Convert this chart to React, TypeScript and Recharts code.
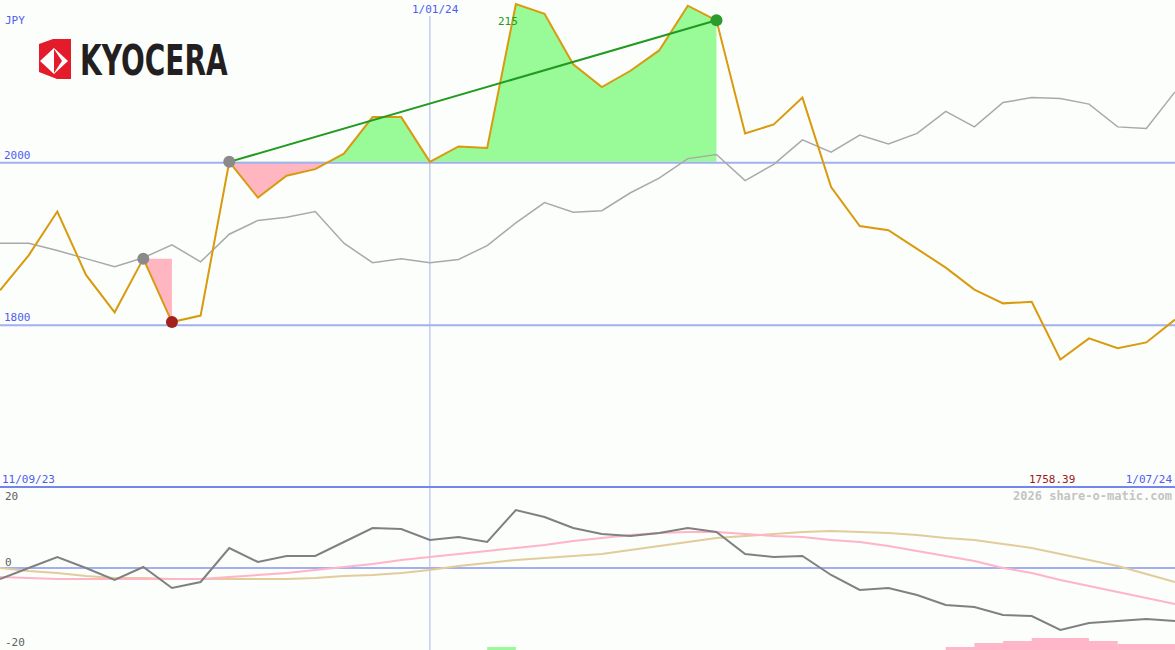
import React from 'react'
import { Area, ComposedChart, Line, ReferenceLine, XAxis, YAxis } from 'recharts'

// weekly closes, 18/09/23 .. 1/07/24
const weeks = [
  '18/09/23', '25/09/23', '2/10/23', '9/10/23', '16/10/23', '23/10/23', '30/10/23',
  '6/11/23', '13/11/23', '20/11/23', '27/11/23', '4/12/23', '11/12/23', '18/12/23',
  '25/12/23', '1/01/24', '8/01/24', '15/01/24', '22/01/24', '29/01/24', '5/02/24',
  '12/02/24', '19/02/24', '26/02/24', '4/03/24', '11/03/24', '18/03/24', '25/03/24',
  '1/04/24', '8/04/24', '15/04/24', '22/04/24', '29/04/24', '6/05/24', '13/05/24',
  '20/05/24', '27/05/24', '3/06/24', '10/06/24', '17/06/24', '24/06/24', '1/07/24'
]

const price = [
  1843, 1886, 1940, 1862, 1816, 1882, 1804, 1812, 2001, 1957, 1984, 1992, 2011, 2056,
  2056, 2001, 2020, 2018, 2195, 2183, 2121, 2093, 2113, 2138, 2193, 2175, 2036, 2047,
  2080, 1970, 1922, 1917, 1894, 1871, 1844, 1827, 1829, 1758, 1784, 1772, 1779, 1807
]

const average = [
  1901, 1901, 1892, 1882, 1872, 1883, 1899, 1878, 1912, 1929, 1933, 1940, 1901, 1877,
  1882, 1877, 1881, 1898, 1926, 1951, 1939, 1941, 1963, 1981, 2005, 2010, 1978, 1998,
  2028, 2013, 2034, 2023, 2036, 2063, 2044, 2074, 2080, 2079, 2072, 2044, 2042, 2087
]

const momentum = [
  -2.75, 0, 2.75, 0, -3, 0.25, -5, -3.5, 5, 1.5, 3, 3, 6.5, 10, 9.75, 7, 7.75, 6.5,
  14.5, 12.75, 10, 8.5, 8, 8.75, 10, 9, 3.5, 2.75, 3, -1.75, -5.5, -5, -6.75, -9.25,
  -9.75, -11.75, -12, -15.5, -13.75, -13.25, -12.75, -13.25
]

const signal = [
  -2.25, -2.5, -2.75, -2.75, -2.75, -2.75, -2.75, -2.75, -2.25, -1.75, -1.25, -0.5,
  0.25, 1, 2, 2.75, 3.5, 4.25, 5, 5.75, 6.75, 7.5, 8.25, 8.75, 9, 9, 8.5, 8, 7.75, 7,
  6.5, 5.5, 4.25, 3, 1.75, 0, -1.25, -3, -4.5, -6, -7.5, -9
]

const slowSignal = [
  0, -0.75, -1.25, -2, -2.5, -2.5, -2.75, -2.75, -2.75, -2.75, -2.75, -2.5, -2, -1.75,
  -1.25, -0.5, 0.5, 1.25, 2, 2.5, 3, 3.5, 4.5, 5.5, 6.5, 7.5, 8, 8.5, 9, 9.25, 9, 8.75,
  8.25, 7.5, 7, 6, 5, 3.5, 2, 0.5, -1.5, -3.5
]

const sellBars: (number | null)[] = [
  null, null, null, null, null, null, null, null, null, null, null, null, null, null,
  null, null, null, null, null, null, null, null, null, null, null, null, null, null,
  null, null, null, null, null, 0.75, 1.75, 2.25, 3, 3, 2.25, 1.5, 1.5, 1.5
]

const buyBars: (number | null)[] = [
  null, null, null, null, null, null, null, null, null, null, null, null, null, null,
  null, null, null, 0.75, 0, null, null, null, null, null, null, null, null, null,
  null, null, null, null, null, null, null, null, null, null, null, null, null, null
]

const markers: Record<string, string> = {
  '23/10/23': '#8a8a8a',
  '30/10/23': '#a3201c',
  '13/11/23': '#8a8a8a',
  '11/03/24': '#2b9b2b'
}

const dropFrom = weeks.indexOf('23/10/23')
const dropTo = weeks.indexOf('30/10/23')
const riseFrom = weeks.indexOf('13/11/23')
const riseTo = weeks.indexOf('11/03/24')

const TOP_MIN = 1600
const TOP_MAX = 2200
const LOW_MIN = -20.5
const LOW_MAX = 20
const TOP_H = 488
const LOW_H = 162

const BG = '#fbfefb'
const BLUE_TEXT = '#4f5cf2'
const GRID = '#a3b0f0'
const MONO = '"DejaVu Sans Mono", monospace'

const topData = weeks.map((week, i) => ({
  week,
  price: price[i],
  average: average[i],
  drop: i >= dropFrom && i <= dropTo ? [price[dropFrom], price[i]] : null,
  rise: i >= riseFrom && i <= riseTo ? [price[riseFrom], price[i]] : null,
  trend: i === riseFrom || i === riseTo ? price[i] : null,
  marker: markers[week] ? price[i] : null
}))

const lowData = weeks.map((week, i) => ({
  week,
  momentum: momentum[i],
  signal: signal[i],
  slow: slowSignal[i],
  sell: sellBars[i] == null ? null : [LOW_MIN, LOW_MIN + (sellBars[i] as number)],
  buy: buyBars[i] == null ? null : [LOW_MIN, LOW_MIN + (buyBars[i] as number)]
}))

const riseOffset = (TOP_MAX - price[riseFrom]) / (TOP_MAX - TOP_MIN)

const MarkerDot = (props: any) => {
  const { cx, cy, payload, index } = props
  const color = markers[payload?.week]
  if (!color || cy == null) return <g key={`m-${index}`} />
  return <circle key={`m-${index}`} cx={cx} cy={cy} r={6} fill={color} />
}

const Logo = () => (
  <svg
    width={230}
    height={70}
    style={{ position: 'absolute', left: 30, top: 25 }}
    viewBox='30 25 230 70'>
    <polygon points='53,39 71,39 71,79 57,79 39,72 39,44' fill='#e31b2b' />
    <polygon points='40,61 54,48 68,61 54,74' fill='#ffffff' />
    <polygon points='54,49 62,61 54,73' fill='#e31b2b' />
    {/* wide letters stretched upright, like the wordmark */}
    <text
      transform='translate(80,75) scale(1,1.5)'
      fontFamily='"DejaVu Sans", sans-serif'
      fontWeight='bold'
      fontSize={28}
      fill='#231f20'>
      KYOCERA
    </text>
  </svg>
)

const Txt = ({ x, y, color, children, size = 11, bold = false, right = false }: any) => (
  <div
    style={{
      position: 'absolute',
      top: y,
      ...(right ? { right: x } : { left: x }),
      color,
      fontFamily: MONO,
      fontSize: size,
      fontWeight: bold ? 'bold' : 'normal',
      lineHeight: `${size + 2}px`,
      whiteSpace: 'nowrap'
    }}>
    {children}
  </div>
)

const App = () => {
  return (
    <div
      style={{
        position: 'absolute',
        left: 0,
        top: 0,
        width: 1175,
        height: 650,
        background: BG,
        overflow: 'hidden'
      }}>
      <div style={{ position: 'absolute', left: 0, top: 0 }}>
        <ComposedChart
          width={1175}
          height={TOP_H}
          data={topData}
          margin={{ top: 0, right: 0, bottom: 0, left: 0 }}>
          <defs>
            <linearGradient id='riseFill' gradientUnits='userSpaceOnUse' x1={0} y1={0} x2={0} y2={TOP_H}>
              <stop offset={riseOffset} stopColor='#98fb98' />
              <stop offset={riseOffset} stopColor='#ffb6c1' />
            </linearGradient>
          </defs>
          <XAxis dataKey='week' hide scale='point' padding={{ left: 0, right: 0 }} />
          <YAxis hide domain={[TOP_MIN, TOP_MAX]} allowDataOverflow />
          <ReferenceLine
            y={2000}
            stroke={GRID}
            strokeWidth={2}
            label={{ value: '2000', position: 'insideBottomLeft', offset: 4, fill: BLUE_TEXT, fontSize: 11, fontFamily: MONO }}
          />
          <ReferenceLine
            y={1800}
            stroke={GRID}
            strokeWidth={2}
            label={{ value: '1800', position: 'insideBottomLeft', offset: 4, fill: BLUE_TEXT, fontSize: 11, fontFamily: MONO }}
          />
          <ReferenceLine x='1/01/24' stroke='#aab4e6' strokeWidth={1} />
          <Area
            dataKey='drop'
            stroke='none'
            fill='#ffb6c1'
            fillOpacity={1}
            activeDot={false}
            isAnimationActive={false}
          />
          <Area
            dataKey='rise'
            stroke='none'
            fill='url(#riseFill)'
            fillOpacity={1}
            activeDot={false}
            isAnimationActive={false}
          />
          <Line
            dataKey='average'
            stroke='#a9a9a9'
            strokeWidth={1.5}
            dot={false}
            activeDot={false}
            isAnimationActive={false}
          />
          <Line
            dataKey='price'
            stroke='#d99a0e'
            strokeWidth={2}
            dot={false}
            activeDot={false}
            isAnimationActive={false}
          />
          <Line
            dataKey='trend'
            stroke='#229a22'
            strokeWidth={2}
            dot={false}
            activeDot={false}
            connectNulls
            isAnimationActive={false}
          />
          <Line
            dataKey='marker'
            stroke='none'
            dot={MarkerDot}
            activeDot={false}
            isAnimationActive={false}
          />
        </ComposedChart>
      </div>

      <div
        style={{
          position: 'absolute',
          left: 0,
          top: 486,
          width: 1175,
          height: 2,
          background: '#7585f0'
        }}
      />

      <div style={{ position: 'absolute', left: 0, top: 488 }}>
        <ComposedChart
          width={1175}
          height={LOW_H}
          data={lowData}
          margin={{ top: 0, right: 0, bottom: 0, left: 0 }}>
          <XAxis dataKey='week' hide scale='point' padding={{ left: 0, right: 0 }} />
          <YAxis hide domain={[LOW_MIN, LOW_MAX]} allowDataOverflow />
          <ReferenceLine y={0} stroke={GRID} strokeWidth={2} />
          <ReferenceLine x='1/01/24' stroke='#aab4e6' strokeWidth={1} />
          <Area
            type='stepAfter'
            dataKey='sell'
            stroke='none'
            fill='#ffb6c8'
            fillOpacity={1}
            activeDot={false}
            isAnimationActive={false}
          />
          <Area
            type='stepAfter'
            dataKey='buy'
            stroke='none'
            fill='#98fb98'
            fillOpacity={1}
            activeDot={false}
            isAnimationActive={false}
          />
          <Line dataKey='slow' stroke='#e2cc9c' strokeWidth={2} dot={false} activeDot={false} isAnimationActive={false} />
          <Line dataKey='signal' stroke='#ffb4c8' strokeWidth={2} dot={false} activeDot={false} isAnimationActive={false} />
          <Line dataKey='momentum' stroke='#808080' strokeWidth={2} dot={false} activeDot={false} isAnimationActive={false} />
        </ComposedChart>
      </div>

      <Logo />
      <Txt x={5} y={14} color={BLUE_TEXT}>JPY</Txt>
      <div style={{ position: 'absolute', left: 410, top: 0, width: 48, height: 16, background: BG }} />
      <Txt x={412} y={3} color={BLUE_TEXT}>1/01/24</Txt>
      <Txt x={498} y={15} color='#229a22'>215</Txt>
      <Txt x={2} y={473} color={BLUE_TEXT}>11/09/23</Txt>
      <Txt x={1029} y={473} color='#a01818'>1758.39</Txt>
      <Txt x={3} y={473} color={BLUE_TEXT} right>1/07/24</Txt>
      <Txt x={3} y={489} color='#c4c4c4' size={12} bold right>2026 share-o-matic.com</Txt>
      <Txt x={5} y={490} color='#606060'>20</Txt>
      <Txt x={5} y={556} color='#606060'>0</Txt>
      <Txt x={5} y={636} color='#606060'>-20</Txt>
    </div>
  )
}

export default App
